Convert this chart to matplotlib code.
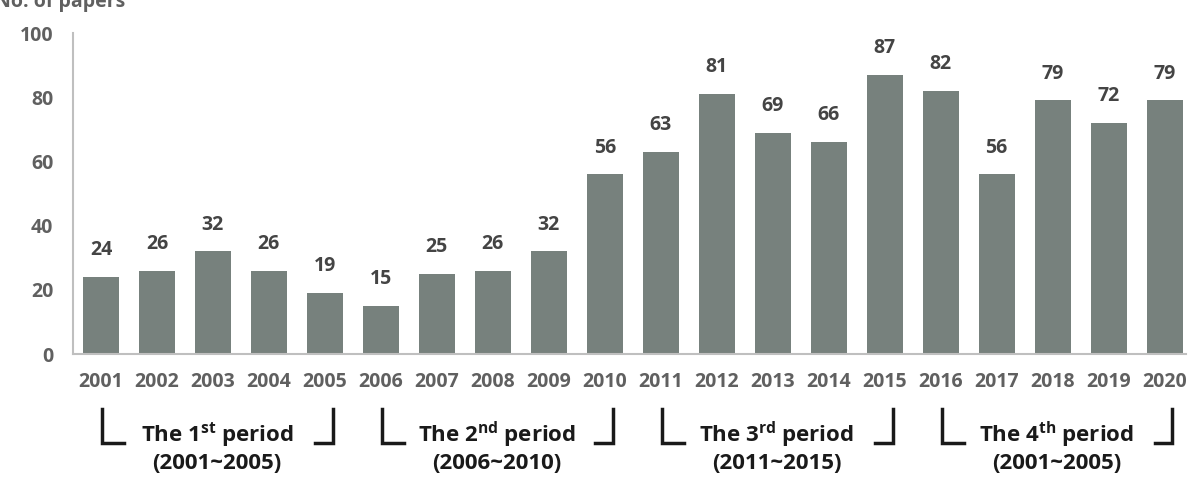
import numpy as np
import matplotlib
matplotlib.use('Agg')
import matplotlib.pyplot as plt

# data
years = [str(y) for y in range(2001, 2021)]
papers = [24, 26, 32, 26, 19, 15, 25, 26, 32, 56, 63, 81, 69, 66, 87, 82, 56, 79, 72, 79]
period_start = [0, 5, 10, 15]
period_names = ['1', '2', '3', '4']
period_sup = ['st', 'nd', 'rd', 'th']
period_ranges = ['(2001~2005)', '(2006~2010)', '(2011~2015)', '(2001~2005)']

plt.rcParams['font.family'] = ['Open Sans', 'DejaVu Sans']
plt.rcParams['mathtext.fontset'] = 'custom'
plt.rcParams['mathtext.rm'] = 'Open Sans:bold'
plt.rcParams['mathtext.bf'] = 'Open Sans:bold'

grey = '#606060'
bar_col = '#77817d'

fig = plt.figure(figsize=(11.88, 4.95), dpi=100)
ax = fig.add_axes([0.0614, 0.2848, 0.9366, 0.6485])

x = np.arange(len(years))
ax.bar(x, papers, width=0.64, color=bar_col, zorder=2)
for xi, v in zip(x, papers):
    ax.annotate(str(v), (xi, v), xytext=(0, 12), textcoords='offset points',
                ha='center', va='bottom', fontsize=14, fontweight='bold', color='#444444')

ax.set_xlim(-0.5, 19.375)
ax.set_ylim(0, 100)
ax.set_yticks([0, 20, 40, 60, 80, 100])
ax.set_xticks(x)
ax.set_xticklabels(years)
ax.tick_params(length=0, labelsize=14, labelcolor=grey, pad=13)
ax.tick_params(axis='y', pad=14)
for t in ax.get_xticklabels() + ax.get_yticklabels():
    t.set_fontweight('bold')
for s in ['top', 'right']:
    ax.spines[s].set_visible(False)
for s in ['left', 'bottom']:
    ax.spines[s].set_color('#bfbfbf')
    ax.spines[s].set_linewidth(1.5)

fig.text(-0.004, 1 - 7 / 495, 'No. of papers', fontsize=14, fontweight='bold',
         color=grey, va='baseline', ha='left')

# period brackets
trans = ax.get_xaxis_transform()
y_top = -(409 - 354) / 321
y_bot = -(443 - 354) / 321
for s, n, sup, rng in zip(period_start, period_names, period_sup, period_ranges):
    ax.plot([s + 0.02, s + 0.02, s + 0.41], [y_top, y_bot, y_bot], color='#1a1a1a',
            lw=2.5, transform=trans, clip_on=False, solid_joinstyle='miter')
    ax.plot([s + 3.82, s + 4.14, s + 4.14], [y_bot, y_bot, y_top], color='#1a1a1a',
            lw=2.5, transform=trans, clip_on=False, solid_joinstyle='miter')
    ax.text(s + 2.07, -(435 - 354) / 321, r'The %s$^{\mathrm{%s}}$ period' % (n, sup),
            transform=trans, ha='center', va='center', fontsize=16,
            fontweight='bold', color='#1a1a1a')
    ax.text(s + 2.07, -(463 - 354) / 321, rng, transform=trans, ha='center',
            va='center', fontsize=16, fontweight='bold', color='#1a1a1a')

fig.savefig('out.png', dpi=100)
